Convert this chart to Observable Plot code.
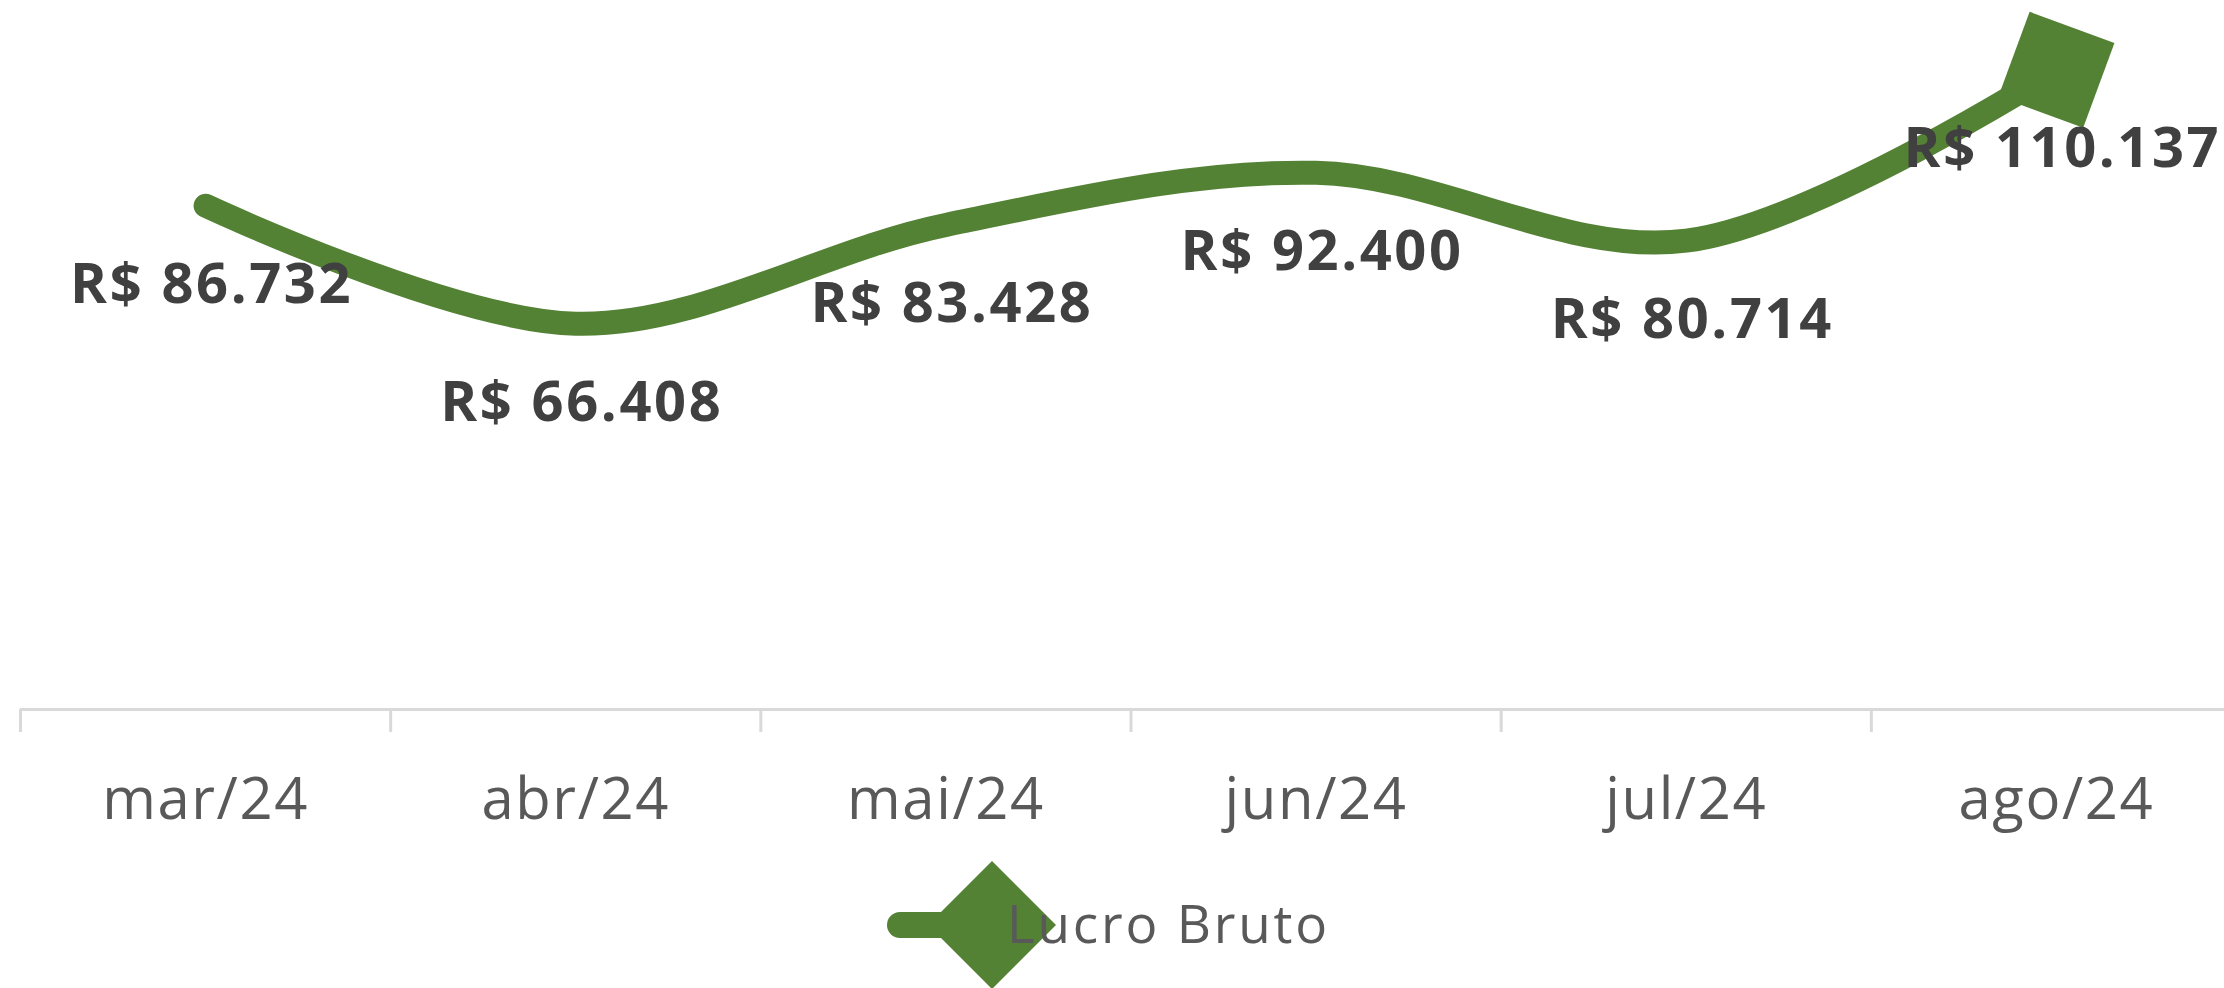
<!DOCTYPE html>
<html>
<head>
<meta charset="utf-8">
<script src="https://cdn.jsdelivr.net/npm/d3@7"></script>
<script src="https://cdn.jsdelivr.net/npm/@observablehq/plot@0.6"></script>
<style>
  html, body { margin: 0; padding: 0; background: #ffffff; overflow: hidden; }
  #chart { width: 2224px; }
  #legend { width: 2224px; height: 128px; display: block; }
</style>
</head>
<body>
<div id="chart"></div>
<svg id="legend" width="2224" height="128"></svg>
<script>
// ---- data ----
const months = ["mar/24", "abr/24", "mai/24", "jun/24", "jul/24", "ago/24"];
const lucroBruto = [86732, 66408, 83428, 92400, 80714, 110137];
const seriesName = "Lucro Bruto";

const brl = d3.formatLocale({decimal: ",", thousands: ".", grouping: [3], currency: ["R$ ", ""]}).format("$,.0f");
const rows = months.map((m, i) => ({i, month: m, value: lucroBruto[i], label: brl(lucroBruto[i])}));
const boundaries = d3.range(months.length + 1).map(k => k - 0.5);

const GREEN = "#548235";
const scales = {
  width: 2224,
  height: 860,
  marginTop: 12,
  marginBottom: 151,
  marginLeft: 20,
  marginRight: 0,
  x: {type: "linear", domain: [-0.5, months.length - 0.5], range: [20, 2241]},
  y: {domain: [0, 120000], axis: null}
};

// probe the scales to orient the end diamond along the last segment
const probe = Plot.plot({...scales, marks: [Plot.ruleY([0])]});
const sx = probe.scale("x"), sy = probe.scale("y");
const n = rows.length;
const ang = Math.atan2(sy.apply(rows[n - 1].value) - sy.apply(rows[n - 2].value),
                       sx.apply(rows[n - 1].i) - sx.apply(rows[n - 2].i)) * 180 / Math.PI;

const chart = Plot.plot({
  ...scales,
  style: {fontFamily: "'Open Sans', sans-serif", background: "#ffffff", overflow: "hidden"},
  marks: [
    Plot.ruleY([0], {stroke: "#d9d9d9", strokeWidth: 3}),
    Plot.axisX(boundaries, {tickSize: 23, tickFormat: () => "", stroke: "#d9d9d9", strokeWidth: 3, strokeOpacity: 1, label: null}),
    Plot.axisX(d3.range(months.length), {tickSize: 0, tickPadding: 68, tickFormat: i => months[i], fontSize: 58, fill: "#595959", label: null}),
    Plot.line(rows, {x: "i", y: "value", curve: "catmull-rom", stroke: GREEN, strokeWidth: 24, strokeLinecap: "round", strokeLinejoin: "round"}),
    Plot.dot(rows.slice(-1), {x: "i", y: "value", symbol: "square", r: 51, fill: GREEN, rotate: 45 + ang}),
    Plot.text(rows, {x: "i", y: "value", text: "label", dy: 97, dx: 6, lineAnchor: "bottom", fontSize: 56, fontWeight: "bold", fill: "#404040"})
  ]
});
document.getElementById("chart").append(chart);
d3.select(chart).selectAll("g[font-size='56'] text").attr("letter-spacing", 2.6);
d3.select(chart).selectAll("g[font-size='58'] text").attr("letter-spacing", 1.6);

// ---- legend ----
const lg = d3.select("#legend");
lg.append("line").attr("x1", 900).attr("x2", 992).attr("y1", 65).attr("y2", 65)
  .attr("stroke", GREEN).attr("stroke-width", 26).attr("stroke-linecap", "round");
lg.append("path").attr("d", "M992,1 L1056,65 L992,129 L928,65 Z").attr("fill", GREEN);
lg.append("text").attr("x", 1007).attr("y", 83).text(seriesName)
  .attr("font-family", "'Open Sans', sans-serif").attr("font-size", 53).attr("letter-spacing", 2.8).attr("fill", "#595959");
</script>
</body>
</html>
